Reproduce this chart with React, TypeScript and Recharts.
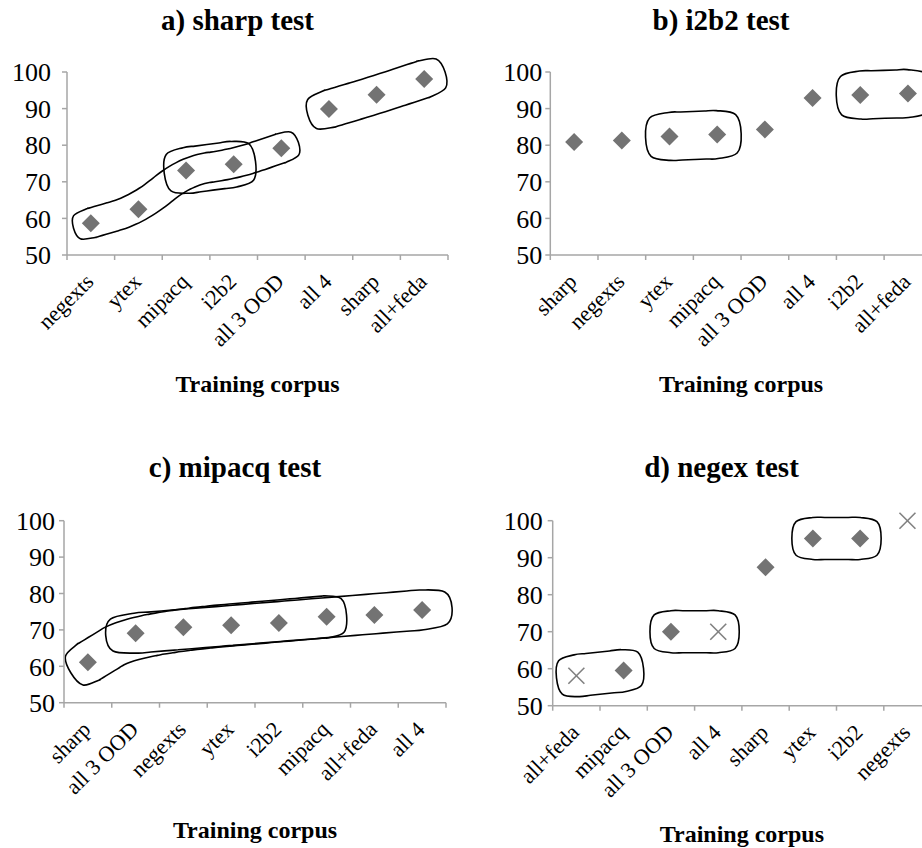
import { ComposedChart, Line, XAxis, YAxis, ReferenceArea } from "recharts";

const AXIS = "#a6a6a6";
const MARK = "#737373";
const FONT = "'Liberation Serif', 'Times New Roman', serif";

const yTicks = [50, 60, 70, 80, 90, 100];

// a) sharp test
const sharpCats = ["negexts", "ytex", "mipacq", "i2b2", "all 3 OOD", "all 4", "sharp", "all+feda"];
const sharpScores = [58.7, 62.5, 73.1, 74.8, 79.2, 89.9, 93.8, 98.1];
const sharpGroups = [
  ["negexts", "ytex", "mipacq", "i2b2", "all 3 OOD"],
  ["mipacq", "i2b2"],
  ["all 4", "sharp", "all+feda"],
];

// b) i2b2 test
const i2b2Cats = ["sharp", "negexts", "ytex", "mipacq", "all 3 OOD", "all 4", "i2b2", "all+feda"];
const i2b2Scores = [80.9, 81.3, 82.4, 82.9, 84.3, 92.9, 93.7, 94.1];
const i2b2Groups = [
  ["ytex", "mipacq"],
  ["i2b2", "all+feda"],
];

// c) mipacq test
const mipacqCats = ["sharp", "all 3 OOD", "negexts", "ytex", "i2b2", "mipacq", "all+feda", "all 4"];
const mipacqScores = [61.1, 69.1, 70.7, 71.3, 71.9, 73.6, 74.1, 75.5];
const mipacqGroups = [
  ["sharp", "all 3 OOD", "mipacq"],
  ["all 3 OOD", "all 4"],
];

// d) negex test (x = crossed-out result)
const negexCats = ["all+feda", "mipacq", "all 3 OOD", "all 4", "sharp", "ytex", "i2b2", "negexts"];
const negexScores = [null, 59.5, 70.0, null, 87.4, 95.2, 95.2, null];
const negexCrosses = [58.1, null, null, 70.0, null, null, null, 100];
const negexGroups = [
  ["all+feda", "mipacq"],
  ["all 3 OOD", "all 4"],
  ["ytex", "i2b2"],
];

type Pt = [number, number];

// closed catmull-rom through the outline points
function smoothClosed(P: Pt[]) {
  const n = P.length;
  let d = `M${P[0][0]},${P[0][1]}`;
  for (let i = 0; i < n; i++) {
    const p0 = P[(i - 1 + n) % n], p1 = P[i], p2 = P[(i + 1) % n], p3 = P[(i + 2) % n];
    const c1 = [p1[0] + (p2[0] - p0[0]) / 6, p1[1] + (p2[1] - p0[1]) / 6];
    const c2 = [p2[0] - (p3[0] - p1[0]) / 6, p2[1] - (p3[1] - p1[1]) / 6];
    d += ` C${c1[0]},${c1[1]} ${c2[0]},${c2[1]} ${p2[0]},${p2[1]}`;
  }
  return d + "Z";
}

// round the corners of the spine, then resample it evenly
function spineOf(pts: Pt[]) {
  let s = pts;
  for (let it = 0; it < 3 && s.length > 2; it++) {
    const next: Pt[] = [s[0]];
    for (let i = 0; i < s.length - 1; i++) {
      const a = s[i], b = s[i + 1];
      next.push([a[0] * 0.75 + b[0] * 0.25, a[1] * 0.75 + b[1] * 0.25]);
      next.push([a[0] * 0.25 + b[0] * 0.75, a[1] * 0.25 + b[1] * 0.75]);
    }
    next.push(s[s.length - 1]);
    s = next;
  }
  const out: Pt[] = [];
  for (let i = 0; i < s.length - 1; i++) {
    const a = s[i], b = s[i + 1];
    const m = Math.max(1, Math.ceil(Math.hypot(b[0] - a[0], b[1] - a[1]) / 14));
    for (let j = 0; j < m; j++) out.push([a[0] + ((b[0] - a[0]) * j) / m, a[1] + ((b[1] - a[1]) * j) / m]);
  }
  out.push(s[s.length - 1]);
  return out;
}

function loopOutline(raw: Pt[], rx: number, ry: number) {
  const pts = spineOf(raw);
  const n = pts.length;
  const dirs = pts.map((_, i) => {
    const a = pts[Math.max(0, i - 1)], b = pts[Math.min(n - 1, i + 1)];
    const dx = b[0] - a[0], dy = b[1] - a[1];
    const len = Math.hypot(dx, dy) || 1;
    return [dx / len, dy / len];
  });
  const k = 0.8;
  const at = (p: Pt, d: number[], a: number, b: number): Pt => [
    p[0] + d[0] * a + d[1] * b,
    p[1] + d[1] * a - d[0] * b,
  ];
  const p0 = pts[0], d0 = dirs[0], pl = pts[n - 1], dl = dirs[n - 1];
  const out: Pt[] = [];
  out.push(at(p0, d0, -rx, 0));
  out.push(at(p0, d0, -rx * k, ry * k));
  pts.forEach((p, i) => out.push(at(p, dirs[i], 0, ry)));
  out.push(at(pl, dl, rx * k, ry * k));
  out.push(at(pl, dl, rx, 0));
  out.push(at(pl, dl, rx * k, -ry * k));
  for (let i = n - 1; i >= 0; i--) out.push(at(pts[i], dirs[i], 0, -ry));
  out.push(at(p0, d0, -rx * k, -ry * k));
  return smoothClosed(out);
}

const LoopShape = (p: any) => {
  const { x, y, width, height, group, vals, cats, size } = p;
  const first = cats.indexOf(group[0]);
  const n = cats.indexOf(group[group.length - 1]) - first + 1;
  const vmin = Math.min(...vals), vmax = Math.max(...vals);
  const pts: Pt[] = group.map((name: string, k: number) => [
    x + ((cats.indexOf(name) - first + 0.5) * width) / n,
    vmax === vmin ? y : y + (height * (vmax - vals[k])) / (vmax - vmin),
  ]);
  return <path d={loopOutline(pts, size[0], size[1])} fill="none" stroke="#000" strokeWidth={1.6} />;
};

const Diamond = (props: any) => {
  const { cx, cy, value, index } = props;
  if (value == null || cx == null || cy == null) return <g key={`d${index}`} />;
  const s = 9;
  return (
    <path
      key={`d${index}`}
      d={`M${cx},${cy - s}L${cx + s},${cy}L${cx},${cy + s}L${cx - s},${cy}Z`}
      fill={MARK}
    />
  );
};

const Cross = (props: any) => {
  const { cx, cy, value, index } = props;
  if (value == null || cx == null || cy == null) return <g key={`c${index}`} />;
  const s = 8;
  return (
    <g key={`c${index}`} stroke="#808080" strokeWidth={1.6}>
      <line x1={cx - s} y1={cy - s} x2={cx + s} y2={cy + s} />
      <line x1={cx - s} y1={cy + s} x2={cx + s} y2={cy - s} />
    </g>
  );
};

const CatTick = (props: any) => {
  const { x, y, payload, index, count } = props;
  const half = payload.offset ?? 0;
  return (
    <g>
      <line x1={x - half} x2={x - half} y1={y} y2={y + 5} stroke={AXIS} strokeWidth={1.5} />
      {index === count - 1 && (
        <line x1={x + half} x2={x + half} y1={y} y2={y + 5} stroke={AXIS} strokeWidth={1.5} />
      )}
      <text
        transform={`translate(${x + 4},${y + 28}) rotate(-45)`}
        textAnchor="end"
        fontSize={22}
        fontFamily={FONT}
        fill="#000"
      >
        {payload.value}
      </text>
    </g>
  );
};

type Box = {
  left: number;
  top: number;
  width: number;
  plotLeft: number;
  plotRight: number;
  plotTop: number;
  axisHeight: number;
  labelOffset: number;
  titleX: number;
  titleTop: number;
  yTickGap: number;
};

type PanelProps = {
  title: string;
  cats: string[];
  scores: (number | null)[];
  crosses?: (number | null)[];
  groups: string[][];
  loopSize: number[][];
  box: Box;
};

function Panel({ title, cats, scores, crosses, groups, loopSize, box }: PanelProps) {
  const rows = cats.map((name, i) => ({
    name,
    diamond: scores[i],
    cross: crosses ? crosses[i] : null,
  }));
  const valueOf = (name: string) => {
    const i = cats.indexOf(name);
    return (scores[i] ?? (crosses ? crosses[i] : null)) as number;
  };

  return (
    <div
      style={{
        position: "absolute",
        left: box.left,
        top: box.top,
        width: 461,
        height: 424,
        overflow: "hidden",
      }}
    >
      <div
        style={{
          position: "absolute",
          left: box.titleX - 200,
          top: box.titleTop,
          width: 400,
          textAlign: "center",
          fontFamily: FONT,
          fontWeight: "bold",
          fontSize: 29,
          lineHeight: "29px",
          color: "#000",
        }}
      >
        {title}
      </div>
      <ComposedChart
        width={box.width}
        height={424}
        data={rows}
        margin={{ top: box.plotTop, right: box.width - box.plotRight, bottom: 0, left: 0 }}
      >
        <XAxis
          dataKey="name"
          type="category"
          scale="band"
          interval={0}
          height={box.axisHeight}
          axisLine={{ stroke: AXIS, strokeWidth: 1.5 }}
          tickLine={false}
          tickSize={0}
          tickMargin={0}
          tick={(p: any) => <CatTick {...p} count={cats.length} />}
          label={{
            value: "Training corpus",
            position: "insideBottom",
            offset: box.labelOffset,
            fontSize: 24,
            fontWeight: "bold",
            fontFamily: FONT,
            fill: "#000",
          }}
        />
        <YAxis
          type="number"
          domain={[50, 100]}
          ticks={yTicks}
          interval={0}
          width={box.plotLeft}
          axisLine={{ stroke: AXIS, strokeWidth: 1.5 }}
          tickLine={{ stroke: AXIS, strokeWidth: 1.5 }}
          tickSize={5}
          tickMargin={box.yTickGap}
          tick={{ fontSize: 26, fontFamily: FONT, fill: "#000" }}
        />
        {groups.map((g, k) => {
          const vals = g.map(valueOf);
          return (
            <ReferenceArea
              key={k}
              x1={g[0]}
              x2={g[g.length - 1]}
              y1={Math.min(...vals)}
              y2={Math.max(...vals)}
              ifOverflow="visible"
              shape={(p: any) => (
                <LoopShape {...p} group={g} vals={vals} cats={cats} size={loopSize[k]} />
              )}
            />
          );
        })}
        <Line
          dataKey="diamond"
          stroke="none"
          dot={Diamond}
          activeDot={false}
          isAnimationActive={false}
        />
        {crosses && (
          <Line
            dataKey="cross"
            stroke="none"
            dot={Cross}
            activeDot={false}
            isAnimationActive={false}
          />
        )}
      </ComposedChart>
    </div>
  );
}

export default function App() {
  return (
    <div
      style={{
        position: "absolute",
        left: 0,
        top: 0,
        width: 922,
        height: 848,
        background: "#fff",
        overflow: "hidden",
      }}
    >
      <Panel
        title="a) sharp test"
        cats={sharpCats}
        scores={sharpScores}
        groups={sharpGroups}
        loopSize={[[18, 15], [22, 23], [22, 19]]}
        box={{ left: 0, top: 0, width: 461, plotLeft: 67, plotRight: 448, plotTop: 72, axisHeight: 169, labelOffset: 32, titleX: 237.5, titleTop: 5.7, yTickGap: 11 }}
      />
      <Panel
        title="b) i2b2 test"
        cats={i2b2Cats}
        scores={i2b2Scores}
        groups={i2b2Groups}
        loopSize={[[24, 24], [24, 24]]}
        box={{ left: 461, top: 0, width: 475, plotLeft: 89.3, plotRight: 470.8, plotTop: 72, axisHeight: 169, labelOffset: 32, titleX: 260, titleTop: 5.7, yTickGap: 3 }}
      />
      <Panel
        title="c) mipacq test"
        cats={mipacqCats}
        scores={mipacqScores}
        groups={mipacqGroups}
        loopSize={[[20, 21], [30, 20]]}
        box={{ left: 0, top: 424, width: 461, plotLeft: 64, plotRight: 446, plotTop: 96.7, axisHeight: 145.3, labelOffset: 10, titleX: 235, titleTop: 28.7, yTickGap: 4 }}
      />
      <Panel
        title="d) negex test"
        cats={negexCats}
        scores={negexScores}
        crosses={negexCrosses}
        groups={negexGroups}
        loopSize={[[20, 21], [21, 21], [21, 21]]}
        box={{ left: 461, top: 424, width: 475, plotLeft: 91.7, plotRight: 470.1, plotTop: 96.7, axisHeight: 142.3, labelOffset: 6.5, titleX: 260.5, titleTop: 28.7, yTickGap: 5 }}
      />
    </div>
  );
}
